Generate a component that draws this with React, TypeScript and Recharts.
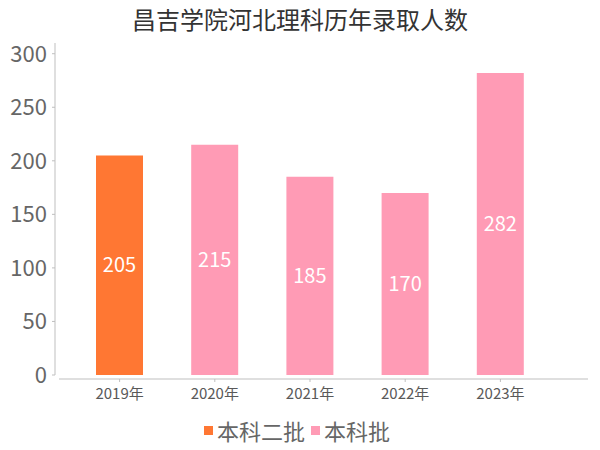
import { BarChart, Bar, XAxis, YAxis, Cell, LabelList, Legend } from 'recharts';

// 年份 / 录取人数 / 批次
const years = ['2019年', '2020年', '2021年', '2022年', '2023年'];
const admitted = [205, 215, 185, 170, 282];
const batches = ['本科二批', '本科批', '本科批', '本科批', '本科批'];
const batchNames = ['本科二批', '本科批'];
const yTicks = [0, 50, 100, 150, 200, 250, 300];

const FONT = '"Noto Sans CJK SC", "Noto Sans", sans-serif';
const batchColor: Record<string, string> = {
  '本科二批': '#FF7733',
  '本科批': '#FF9BB5',
};

const data = years.map((year, i) => ({ year, value: admitted[i], batch: batches[i] }));

function BatchLegend() {
  return (
    <div style={{ display: 'flex', justifyContent: 'center', alignItems: 'center', fontFamily: FONT }}>
      {batchNames.map(name => (
        <div key={name} style={{ display: 'flex', alignItems: 'center', marginRight: 6 }}>
          <span style={{ width: 9, height: 9, background: batchColor[name], marginRight: 4, display: 'inline-block' }} />
          <span style={{ fontSize: 22, color: '#666666', lineHeight: '24px' }}>{name}</span>
        </div>
      ))}
    </div>
  );
}

export default function App() {
  return (
    <div style={{ position: 'absolute', left: 0, top: 0, width: 600, height: 450, background: '#fff' }}>
      <div
        style={{
          position: 'absolute', top: 0, left: 0, width: 600, textAlign: 'center',
          fontFamily: FONT, fontSize: 24, lineHeight: '38px', color: '#333333',
        }}
      >
        昌吉学院河北理科历年录取人数
      </div>
      <BarChart width={600} height={450} data={data} margin={{ top: 43, right: 16, left: 0, bottom: 45 }}>
        <XAxis
          dataKey="year"
          height={30}
          padding={{ left: 17, right: 36 }}
          axisLine={{ stroke: '#bfbfbf', transform: 'translate(4,4)' }}
          tickLine={{ stroke: '#bfbfbf', transform: 'translate(0,4)' }}
          tickSize={3}
          tickMargin={10}
          tick={{ fontSize: 15, fill: '#595959', fontFamily: FONT }}
          interval={0}
        />
        <YAxis
          width={55}
          domain={[0, 310]}
          ticks={yTicks}
          axisLine={{ stroke: '#bfbfbf' }}
          tickLine={{ stroke: '#bfbfbf' }}
          tickSize={3}
          tickMargin={5}
          tick={{ fontSize: 22, fill: '#666666', fontFamily: FONT }}
        />
        <Legend
          verticalAlign="middle"
          align="center"
          wrapperStyle={{ top: 418, left: 0, width: 600 }}
          content={() => <BatchLegend />}
        />
        <Bar dataKey="value" barSize={47} isAnimationActive={false}>
          {data.map(d => (
            <Cell key={d.year} fill={batchColor[d.batch]} />
          ))}
          <LabelList dataKey="value" position="center" fill="#ffffff" fontSize={20} fontFamily={FONT} />
        </Bar>
      </BarChart>
    </div>
  );
}
